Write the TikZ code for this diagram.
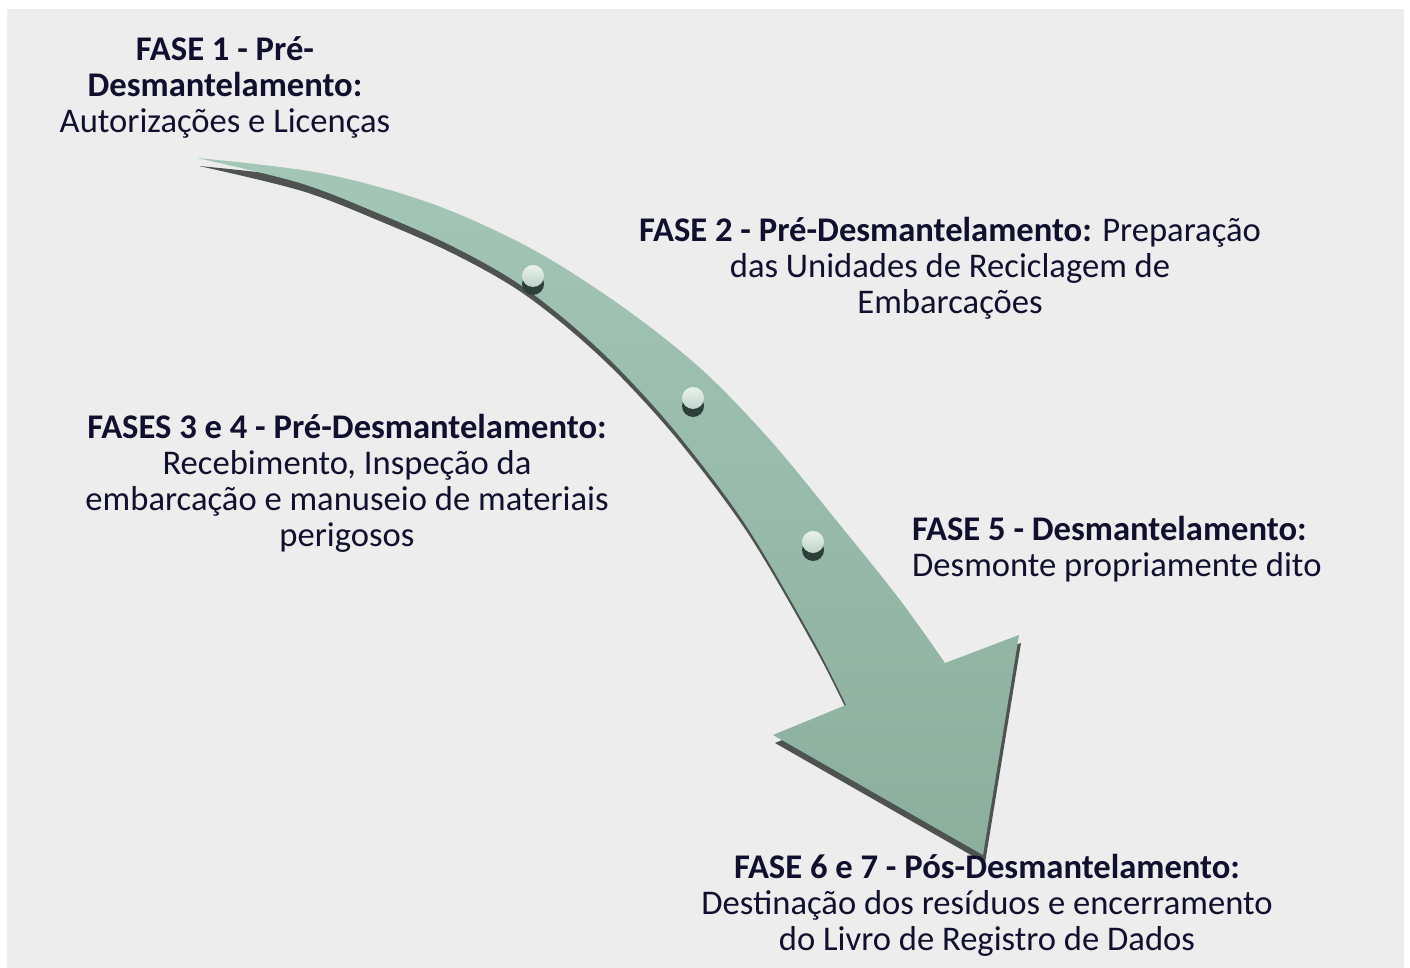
\documentclass[tikz,border=0pt]{standalone}
\usepackage{fontspec}
\setmainfont{Carlito}
\definecolor{bggray}{HTML}{ECEDEC}
\definecolor{sagetop}{HTML}{A4C6B7}
\definecolor{sagebot}{HTML}{8BAE9D}
\definecolor{shadowgray}{HTML}{4E5352}
\definecolor{navy}{HTML}{10102E}
\definecolor{dotdark}{HTML}{2E3F39}
\definecolor{dottop}{HTML}{EAF2EE}
\definecolor{dotbot}{HTML}{BCD3C9}
\tikzset{
  phase/.style={font=\fontsize{34.6}{36}\selectfont, text=navy, align=center, inner sep=0pt, anchor=base},
}
\def\arrowpath{(197,158) -- plot[smooth, tension=0.55] coordinates {(197,158) (320,173) (430,203) (530,248) (620,305) (700,368) (770,440) (840,525) (900,600) (945,663)}
  -- (1019,635) -- (983,855) -- (773,735) -- (846,705)
  -- plot[smooth, tension=0.55] coordinates {(846,705) (813,640) (747,527) (680,437) (620,370) (567,321) (513,280) (450,245) (380,214) (300,183) (197,158)} -- cycle}
\begin{document}
\begin{tikzpicture}[x=1pt,y=-1pt]
  \useasboundingbox (0,0) rectangle (1410,968);
  \fill[bggray] (7,9) rectangle (1404,968);
  % arrow with its shadow
  \fill[shadowgray, shift={(2,8)}] \arrowpath;
  \shade[top color=sagetop, bottom color=sagebot] \arrowpath;
  % dots on the arrow
  \foreach \x/\y in {533/276, 693/398, 813/542} {
    \fill[dotdark] (\x,\y+8) circle (11);
    \shade[top color=dottop, bottom color=dotbot] (\x,\y) circle (11);
  }
  % phases (base = last line)
  \node[phase] (fase1) at (225,133) {\textbf{FASE 1 - Pré-}\\\textbf{Desmantelamento:}\\Autorizações e Licenças};
  \node[phase] (fase2) at (950,313) {\textbf{FASE 2 - Pré-Desmantelamento:} Preparação\\das Unidades de Reciclagem de\\Embarcações};
  \node[phase] (fase34) at (347,546) {\textbf{FASES 3 e 4 - Pré-Desmantelamento:}\\Recebimento, Inspeção da\\embarcação e manuseio de materiais\\perigosos};
  \node[phase, align=left, anchor=base west] (fase5) at (912,576) {\textbf{FASE 5 - Desmantelamento:}\\Desmonte propriamente dito};
  \node[phase] (fase67) at (987,950) {\textbf{FASE 6 e 7 - Pós-Desmantelamento:}\\Destinação dos resíduos e encerramento\\do Livro de Registro de Dados};
\end{tikzpicture}
\end{document}
